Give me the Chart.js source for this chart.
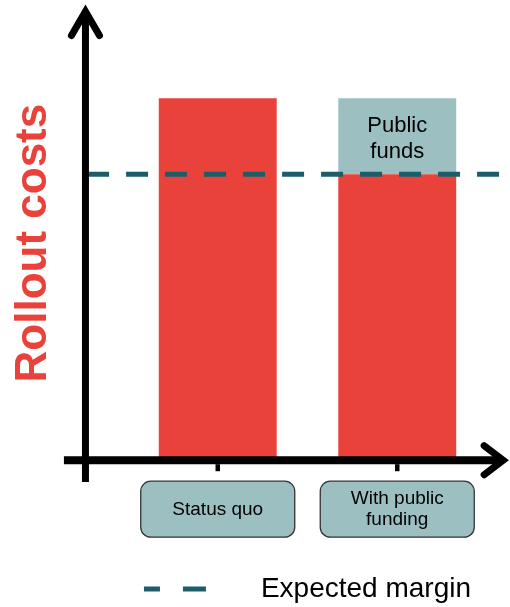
<!DOCTYPE html>
<html>
<head>
<meta charset="utf-8">
<script src="https://cdn.jsdelivr.net/npm/chart.js@4/dist/chart.umd.min.js"></script>
<style>
  html, body { margin: 0; padding: 0; background: #fff; }
  #wrap { width: 510px; height: 607px; position: relative; }
</style>
</head>
<body>
<div id="wrap"><canvas id="costChart"></canvas></div>
<script>
// values (arbitrary units, status quo = 100)
var categories = ["Status quo", ["With public", "funding"]];
var rolloutCosts = [100, 79];
var publicFunds = [0, 21];
var expectedMargin = 79;
var yMax = 120;

var red = "#e8423a";
var teal = "#9cbfc2";
var dashColor = "#1b5e6a";
var family = "'Liberation Sans', Arial, sans-serif";

// where the hand-drawn axes sit, in units of the line scale (category index)
var axisYAt = -0.737, axisXFrom = -0.857, axisXTo = 1.59;
var marginFrom = -0.728, marginTo = 1.567;
var axisYBottom = -6, axisYTop = 124;

Chart.defaults.font.family = family;

var decor = {
  id: "decor",
  beforeDraw: function (chart) {
    var ctx = chart.ctx, x = chart.scales.x;
    ctx.save();
    categories.forEach(function (c, i) {
      var cx = x.getPixelForTick(i);
      ctx.beginPath();
      ctx.roundRect(cx - 77, x.top + 21, 154, 56, 10);
      ctx.fillStyle = teal;
      ctx.fill();
      ctx.lineWidth = 1.3;
      ctx.strokeStyle = "#333";
      ctx.stroke();
    });
    ctx.restore();
  },
  afterDatasetsDraw: function (chart) {
    var ctx = chart.ctx, x = chart.scales.x, y = chart.scales.y, xl = chart.scales.xLine;
    var ax = xl.getPixelForValue(axisYAt);
    var zeroY = y.getPixelForValue(0);
    var tipY = y.getPixelForValue(axisYTop);
    var tipX = xl.getPixelForValue(axisXTo);
    ctx.save();
    ctx.strokeStyle = "#000";

    // y axis with arrow
    ctx.lineWidth = 7;
    ctx.lineCap = "butt";
    ctx.beginPath();
    ctx.moveTo(ax, y.getPixelForValue(axisYBottom));
    ctx.lineTo(ax, tipY + 4);
    ctx.stroke();
    ctx.lineCap = "round";
    ctx.lineJoin = "miter";
    ctx.beginPath();
    ctx.moveTo(ax - 14, tipY + 24);
    ctx.lineTo(ax, tipY);
    ctx.lineTo(ax + 14, tipY + 24);
    ctx.stroke();

    // x axis with arrow
    ctx.lineWidth = 8;
    ctx.lineCap = "butt";
    ctx.beginPath();
    ctx.moveTo(xl.getPixelForValue(axisXFrom), zeroY);
    ctx.lineTo(tipX - 4, zeroY);
    ctx.stroke();
    ctx.lineWidth = 7;
    ctx.lineCap = "round";
    ctx.beginPath();
    ctx.moveTo(tipX - 19, zeroY - 14.5);
    ctx.lineTo(tipX, zeroY);
    ctx.lineTo(tipX - 19, zeroY + 14.5);
    ctx.stroke();

    // small tick marks
    ctx.lineWidth = 4.5;
    ctx.lineCap = "butt";
    categories.forEach(function (c, i) {
      var px = x.getPixelForTick(i);
      ctx.beginPath();
      ctx.moveTo(px, zeroY + 4);
      ctx.lineTo(px, zeroY + 11);
      ctx.stroke();
    });

    // label inside the public funds block
    var bar = chart.getDatasetMeta(1).data[1];
    var mid = (bar.y + bar.base) / 2;
    ctx.fillStyle = "#000";
    ctx.font = "22px " + family;
    ctx.textAlign = "center";
    ctx.textBaseline = "middle";
    ctx.fillText("Public", bar.x, mid - 10);
    ctx.fillText("funds", bar.x, mid + 16);
    ctx.restore();
  }
};

new Chart(document.getElementById("costChart"), {
  type: "bar",
  data: {
    labels: categories,
    datasets: [
      {
        label: "Rollout costs",
        data: rolloutCosts,
        backgroundColor: red,
        stack: "cost",
        grouped: false,
        order: 1,
        barPercentage: 0.657,
        categoryPercentage: 1
      },
      {
        label: "Public funds",
        data: publicFunds,
        backgroundColor: teal,
        stack: "cost",
        grouped: false,
        order: 1,
        barPercentage: 0.657,
        categoryPercentage: 1
      },
      {
        type: "line",
        label: "Expected margin",
        xAxisID: "xLine",
        data: [{ x: marginFrom, y: expectedMargin }, { x: marginTo, y: expectedMargin }],
        borderColor: dashColor,
        borderWidth: 5,
        borderDash: [22, 17],
        pointRadius: 0,
        clip: false,
        order: 0
      }
    ]
  },
  options: {
    responsive: true,
    maintainAspectRatio: false,
    animation: false,
    events: [],
    layout: { padding: { top: 26, right: 23, bottom: -6, left: 0 } },
    scales: {
      x: {
        type: "category",
        stacked: true,
        offset: true,
        grid: { display: false, drawTicks: true, tickLength: 39 },
        border: { display: false },
        ticks: {
          color: "#000",
          font: { size: 19, lineHeight: 1.1 },
          padding: 0,
          crossAlign: "center",
          maxRotation: 0,
          autoSkip: false
        }
      },
      xLine: {
        type: "linear",
        display: false,
        offset: false,
        min: -0.5,
        max: 1.5
      },
      y: {
        stacked: true,
        min: 0,
        max: yMax,
        grid: { display: false, drawTicks: false },
        border: { display: false },
        ticks: { display: false },
        title: {
          display: true,
          text: "Rollout costs",
          color: red,
          font: { size: 44, weight: "bold", lineHeight: 1.2 },
          padding: { top: 7.6, bottom: 67.6 }
        }
      }
    },
    plugins: {
      tooltip: { enabled: false },
      legend: {
        position: "bottom",
        fullSize: false,
        labels: {
          color: "#000",
          font: { size: 28 },
          padding: 34,
          usePointStyle: true,
          pointStyleWidth: 103,
          generateLabels: function (chart) {
            return [{
              text: chart.data.datasets[2].label,
              fillStyle: dashColor,
              strokeStyle: dashColor,
              fontColor: "#000",
              lineWidth: 5,
              lineDash: [16, 23, 23, 300],
              pointStyle: "line",
              hidden: false,
              datasetIndex: 2
            }];
          }
        }
      }
    }
  },
  plugins: [decor]
});
</script>
</body>
</html>
